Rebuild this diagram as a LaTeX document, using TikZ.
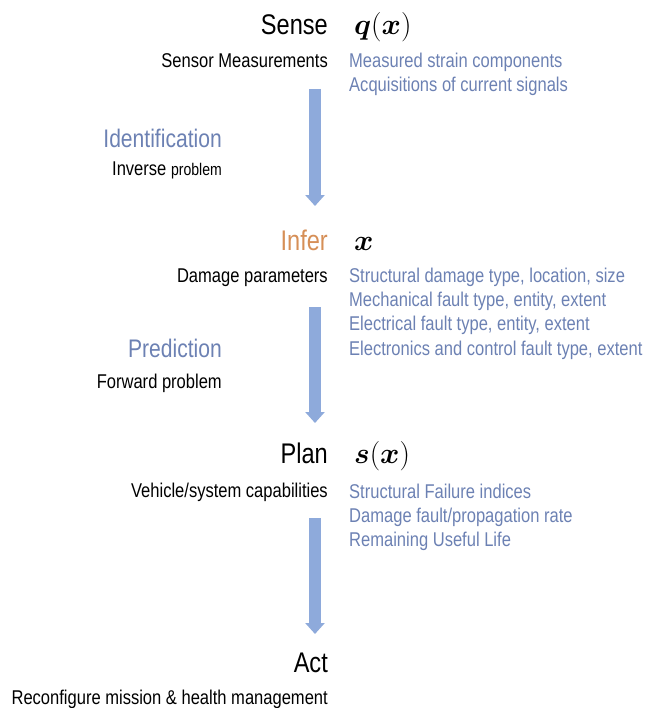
\RequirePackage{fix-cm}
\documentclass[tikz,border=0pt]{standalone}
\usepackage{fontspec}
\usepackage{amsmath}
\usepackage{xcolor}
\usetikzlibrary{arrows.meta,positioning}
\setmainfont[FakeStretch=0.83]{Liberation Sans}
\definecolor{listblue}{HTML}{6C81B3}
\definecolor{arrowblue}{HTML}{8EAADB}
\definecolor{inferorange}{HTML}{D68F57}

\begin{document}
\begin{tikzpicture}[x=1bp, y=1bp]
    \def\xl{328}
    \def\xr{349}
    \def\xa{315}
    \tikzset{
        stage/.style={anchor=base east, inner sep=0, font=\fontsize{28.5}{32}\selectfont},
        mathsym/.style={anchor=base west, inner sep=0, font=\fontsize{29.5}{34}\selectfont},
        caption/.style={anchor=base east, inner sep=0, font=\fontsize{20}{24}\selectfont},
        item/.style={anchor=base west, inner sep=0, text=listblue, font=\fontsize{20}{24}\selectfont},
        task/.style={anchor=base east, inner sep=0, text=listblue, font=\fontsize{25.5}{30}\selectfont},
        flow/.style={line width=12bp, draw=arrowblue, -{Triangle[width=19bp, length=11bp]}}
    }
    \useasboundingbox (0,0) rectangle (646,-708);

    % sense
    \node(sense) [stage] at (\xl,-35) {Sense};
    \node(q) [mathsym] at (\xr+5,-35) {$\boldsymbol{q}(\boldsymbol{x})$};
    \node(sensor) [caption] at (\xl,-68) {Sensor Measurements};
    \node(s1) [item] at (\xr,-68) {Measured strain components};
    \node(s2) [item] at (\xr,-92) {Acquisitions of current signals};

    \node(ident) [task] at (222,-147) {Identification};
    \node(inverse) [caption] at (222,-175) {Inverse {\fontsize{17}{20}\selectfont problem}};

    % infer
    \node(infer) [stage, text=inferorange] at (\xl,-250) {Infer};
    \node(x) [mathsym] at (\xr+5,-250) {$\boldsymbol{x}$};
    \node(damage) [caption] at (\xl,-282) {Damage parameters};
    \node(i1) [item] at (\xr,-282) {Structural damage type, location, size};
    \node(i2) [item] at (\xr,-306) {Mechanical fault type, entity, extent};
    \node(i3) [item] at (\xr,-330) {Electrical fault type, entity, extent};
    \node(i4) [item] at (\xr,-355) {Electronics and control fault type, extent};

    \node(pred) [task] at (222,-357) {Prediction};
    \node(forward) [caption] at (222,-388) {Forward problem};

    % plan
    \node(plan) [stage] at (\xl,-463) {Plan};
    \node(s) [mathsym] at (\xr+5,-463) {$\boldsymbol{s}(\boldsymbol{x})$};
    \node(vehicle) [caption] at (\xl,-497) {Vehicle/system capabilities};
    \node(p1) [item] at (\xr,-498) {Structural Failure indices};
    \node(p2) [item] at (\xr,-522) {Damage fault/propagation rate};
    \node(p3) [item] at (\xr,-546) {Remaining Useful Life};

    % act
    \node(act) [stage] at (\xl,-672) {Act};
    \node(reconf) [caption] at (\xl,-704) {Reconfigure mission \& health management};

    \coordinate (a1) at (\xa,-89);
    \coordinate (b1) at (\xa,-206);
    \coordinate (a2) at (\xa,-307);
    \coordinate (b2) at (\xa,-423);
    \coordinate (a3) at (\xa,-518);
    \coordinate (b3) at (\xa,-634);
    \draw[flow] (a1) -- (b1);
    \draw[flow] (a2) -- (b2);
    \draw[flow] (a3) -- (b3);
\end{tikzpicture}
\end{document}
